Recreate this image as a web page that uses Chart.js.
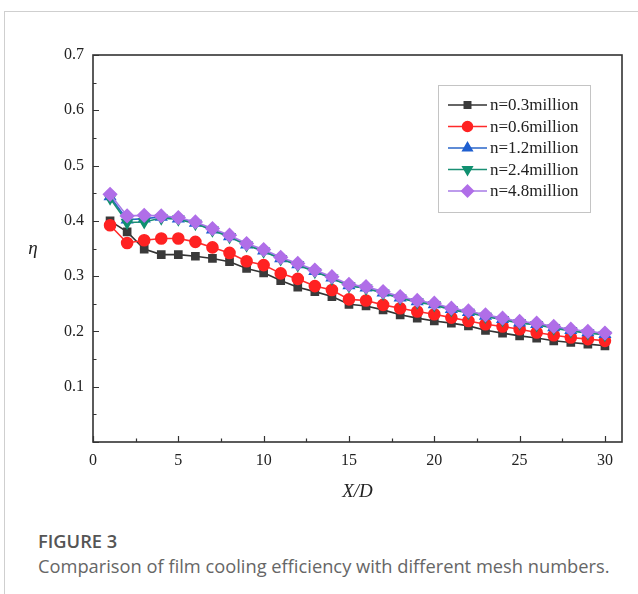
<!DOCTYPE html>
<html>
<head>
<meta charset="utf-8">
<script src="https://cdn.jsdelivr.net/npm/chart.js@4.4.1/dist/chart.umd.min.js"></script>
<style>
  html, body { margin:0; padding:0; background:#fff; width:638px; height:594px; overflow:hidden; }
  #card { position:absolute; left:4px; top:11px; width:640px; height:600px; border-left:1px solid #cfcfcf; border-top:1px solid #cfcfcf; }
  #wrap { position:absolute; left:0; top:0; width:638px; height:520px; }
  #fig { position:absolute; left:38px; top:529px; line-height:24px; font-family:"Open Sans", "Noto Sans", sans-serif; font-size:18.3px; font-weight:600; color:#555; }
  #cap { position:absolute; left:38px; top:554px; line-height:24px; font-family:"Open Sans", "Noto Sans", sans-serif; font-size:18.3px; color:#666; white-space:nowrap; }
</style>
</head>
<body>
<div id="card"></div>
<div id="wrap"><canvas id="c" width="638" height="520"></canvas></div>
<div id="fig">FIGURE 3</div>
<div id="cap">Comparison of film cooling efficiency with different mesh numbers.</div>
<script>
const xPositions = [1,2,3,4,5,6,7,8,9,10,11,12,13,14,15,16,17,18,19,20,21,22,23,24,25,26,27,28,29,30];
const seriesNames = ["n=0.3million","n=0.6million","n=1.2million","n=2.4million","n=4.8million"];
const mesh03 = [0.400,0.380,0.349,0.339,0.339,0.336,0.332,0.326,0.314,0.306,0.292,0.280,0.272,0.263,0.249,0.246,0.239,0.230,0.224,0.219,0.215,0.210,0.202,0.197,0.192,0.188,0.183,0.180,0.177,0.174];
const mesh06 = [0.392,0.360,0.365,0.368,0.368,0.362,0.352,0.342,0.327,0.320,0.305,0.295,0.282,0.275,0.258,0.256,0.248,0.242,0.236,0.231,0.225,0.219,0.213,0.209,0.204,0.198,0.193,0.189,0.186,0.183];
const mesh12 = [0.444,0.402,0.404,0.407,0.404,0.396,0.384,0.372,0.357,0.346,0.332,0.321,0.309,0.297,0.283,0.279,0.270,0.261,0.254,0.249,0.240,0.235,0.228,0.222,0.216,0.213,0.207,0.202,0.198,0.195];
const mesh24 = [0.441,0.397,0.398,0.405,0.403,0.395,0.383,0.371,0.356,0.345,0.331,0.320,0.308,0.296,0.282,0.278,0.269,0.260,0.253,0.248,0.239,0.234,0.227,0.221,0.215,0.212,0.206,0.201,0.197,0.194];
const mesh48 = [0.448,0.409,0.410,0.409,0.406,0.398,0.386,0.374,0.359,0.348,0.334,0.323,0.311,0.299,0.285,0.281,0.272,0.263,0.256,0.251,0.242,0.237,0.230,0.224,0.218,0.215,0.209,0.204,0.200,0.197];
const xTickLabels = [0,5,10,15,20,25,30];
const yTickLabels = [0.1,0.2,0.3,0.4,0.5,0.6,0.7];

const styles = [
  {line:'#333333', fill:'#3a3a3a', shape:'rect', r:5, rot:0},
  {line:'#ff2a2a', fill:'#ff2222', shape:'circle', r:5.5, rot:0},
  {line:'#2a66c8', fill:'#1f5fd0', shape:'triangle', r:6, rot:0},
  {line:'#1a8f74', fill:'#109070', shape:'triangle', r:6, rot:180},
  {line:'#a77be6', fill:'#b06ee8', shape:'rectRot', r:6.5, rot:0}
];
const allSeries = [mesh03, mesh06, mesh12, mesh24, mesh48];

const datasets = allSeries.map((vals, i) => ({
  label: seriesNames[i],
  data: xPositions.map((x, j) => ({x: x, y: vals[j]})),
  borderColor: styles[i].line,
  backgroundColor: styles[i].fill,
  pointBackgroundColor: styles[i].fill,
  pointBorderColor: styles[i].fill,
  pointStyle: styles[i].shape,
  pointRotation: styles[i].rot,
  pointRadius: styles[i].r,
  borderWidth: 1.6,
  order: 4 - i,
  tension: 0
}));

const serif = "'Liberation Serif', 'Times New Roman', serif";

const framePlugin = {
  id: 'frame',
  afterDraw(chart) {
    const {ctx, chartArea: a, scales: {x, y}} = chart;
    ctx.save();
    ctx.strokeStyle = '#333';
    ctx.lineWidth = 1.6;
    ctx.strokeRect(a.left, a.top, a.right - a.left, a.bottom - a.top);
    ctx.lineWidth = 1.2;
    ctx.beginPath();
    for (let v = 0; v <= 0.7001; v += 0.05) {
      const py = Math.round(y.getPixelForValue(v)) + 0.5;
      const major = Math.abs(v * 10 - Math.round(v * 10)) < 1e-6;
      ctx.moveTo(a.left, py); ctx.lineTo(a.left + (major ? 6 : 3.5), py);
    }
    for (let v = 0; v <= 30.001; v += 2.5) {
      const px = Math.round(x.getPixelForValue(v)) + 0.5;
      const major = Math.abs(v / 5 - Math.round(v / 5)) < 1e-6;
      ctx.moveTo(px, a.bottom); ctx.lineTo(px, a.bottom - (major ? 6 : 3.5));
    }
    ctx.stroke();
    // y title (upright)
    ctx.fillStyle = '#222';
    ctx.font = "italic 19px " + serif;
    ctx.textAlign = 'center';
    ctx.textBaseline = 'middle';
    ctx.fillText('\u03B7', 33, (a.top + a.bottom) / 2);
    // legend
    const lx = a.left + 345, ly = a.top + 30, lw = 152, lh = 127;
    ctx.strokeStyle = '#c4c4c4';
    ctx.lineWidth = 1;
    ctx.strokeRect(lx + 0.5, ly + 0.5, lw, lh);
    chart.data.datasets.forEach((ds, i) => {
      const cy = ly + 20 + i * 21.5;
      ctx.strokeStyle = ds.borderColor;
      ctx.lineWidth = 1.6;
      ctx.beginPath();
      ctx.moveTo(lx + 10, cy); ctx.lineTo(lx + 49, cy);
      ctx.stroke();
      ctx.fillStyle = ds.pointBackgroundColor;
      ctx.strokeStyle = ds.pointBorderColor;
      Chart.helpers.drawPoint(ctx, {pointStyle: ds.pointStyle, rotation: ds.pointRotation, radius: ds.pointRadius * 0.9, borderWidth: 1}, lx + 29.5, cy);
      ctx.fillStyle = '#222';
      ctx.font = "17px " + serif;
      ctx.textAlign = 'left';
      ctx.textBaseline = 'middle';
      ctx.fillText(ds.label, lx + 52, cy + 1);
    });
    ctx.restore();
  }
};

new Chart(document.getElementById('c'), {
  type: 'line',
  data: { datasets },
  plugins: [framePlugin],
  options: {
    responsive: false,
    animation: false,
    events: [],
    layout: { padding: { top: 55, right: 16, left: 0, bottom: 0 } },
    plugins: { legend: { display: false }, tooltip: { enabled: false } },
    scales: {
      x: {
        type: 'linear', min: 0, max: 31,
        grid: { display: false, drawTicks: false },
        border: { display: false },
        afterBuildTicks(s) { s.ticks = xTickLabels.map(v => ({value: v})); },
        afterFit(s) { s.height = 78; },
        ticks: { padding: 9, color: '#222', font: { family: serif, size: 16 }, maxRotation: 0,
                 callback: v => String(v) },
        title: { display: true, text: 'X/D', color: '#222', font: { family: serif, size: 19, style: 'italic' }, padding: { top: 0, bottom: 17 } }
      },
      y: {
        type: 'linear', min: 0, max: 0.7,
        grid: { display: false, drawTicks: false },
        border: { display: false },
        afterBuildTicks(s) { s.ticks = yTickLabels.map(v => ({value: v})); },
        afterFit(s) { s.width = 93; },
        ticks: { padding: 9, color: '#222', font: { family: serif, size: 16 },
                 callback: v => Number(v).toFixed(1) }
      }
    }
  }
});
</script>
</body>
</html>
